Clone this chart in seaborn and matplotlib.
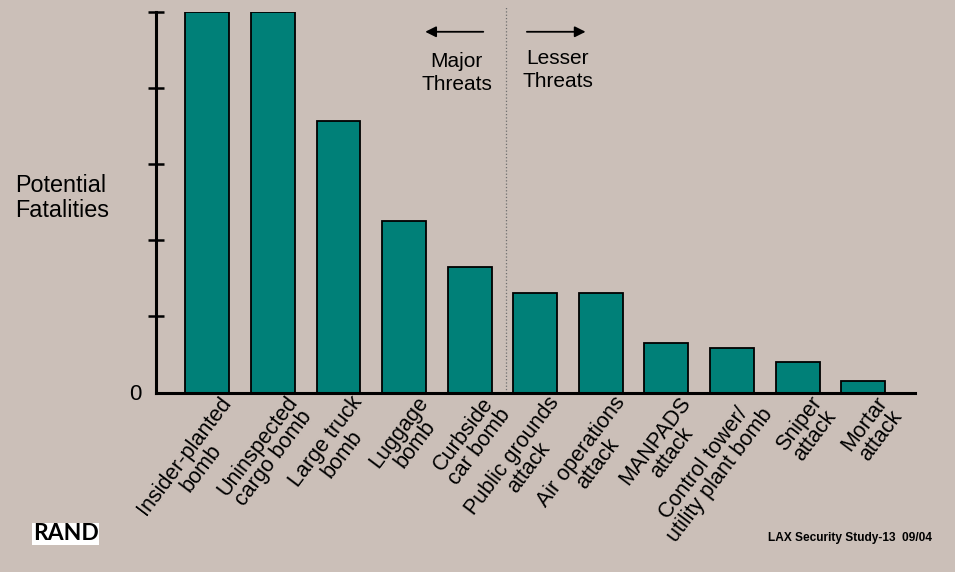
import matplotlib
matplotlib.use("Agg")
import matplotlib.pyplot as plt
import matplotlib.transforms as mtransforms
import seaborn as sns

# Threat categories and relative fatality estimates
threats = [
    "Insider-planted\nbomb", "Uninspected\ncargo bomb", "Large truck\nbomb",
    "Luggage\nbomb", "Curbside\ncar bomb", "Public grounds\nattack",
    "Air operations\nattack", "MANPADS\nattack", "Control tower/\nutility plant bomb",
    "Sniper\nattack", "Mortar\nattack",
]
fatalities = [5.0, 5.0, 3.57, 2.25, 1.65, 1.31, 1.31, 0.65, 0.58, 0.40, 0.15]
y_ticks = [0, 1, 2, 3, 4, 5]
y_labels = ["0", "", "", "", "", ""]

bg = "#cbbfb8"
teal = "#008078"

sns.set_style("white")
plt.rcParams["font.family"] = ["Liberation Sans", "DejaVu Sans"]
plt.rcParams["text.color"] = "black"

fig = plt.figure(figsize=(9.55, 5.72), dpi=100, facecolor=bg)
ax = fig.add_axes([155.5 / 955, 179.5 / 572, (915 - 155.5) / 955, (392.5 - 12) / 572])
ax.set_facecolor(bg)

sns.barplot(x=threats, y=fatalities, color=teal, saturation=1, width=0.67,
            edgecolor="black", linewidth=1.3, ax=ax)

ax.set_xlim(-0.79, 10.79)
ax.set_ylim(0, 5)
ax.set_xlabel("")
ax.set_ylabel("")

# axes styling
for side in ["top", "right"]:
    ax.spines[side].set_visible(False)
for side in ["left", "bottom"]:
    ax.spines[side].set_linewidth(2.2)
    ax.spines[side].set_color("black")

ax.set_yticks(y_ticks, labels=y_labels)
ax.tick_params(axis="y", left=True, direction="inout", length=11, width=1.8,
               pad=4.5, labelsize=16, colors="black")
ax.yaxis.get_major_ticks()[0].tick1line.set_visible(False)
ax.tick_params(axis="x", length=0, pad=0, colors="black")

# rotated two-line category labels
offset = mtransforms.ScaledTranslation(12 / 100, 0, fig.dpi_scale_trans)
for lab in ax.get_xticklabels():
    lab.set_rotation(53)
    lab.set_rotation_mode("anchor")
    lab.set_ha("right")
    lab.set_va("top")
    lab.set_multialignment("center")
    lab.set_fontsize(15.5)
    lab.set_linespacing(0.95)
    lab.set_transform(lab.get_transform() + offset)

# divider between major and lesser threats
ax.plot([4.55, 4.55], [0, 5.07], ls=":", color="#6e6e6e", lw=0.9, clip_on=False)

ax.annotate("", xy=(3.28, 4.74), xytext=(4.25, 4.74),
            arrowprops=dict(arrowstyle="-|>", color="black", lw=1.3, mutation_scale=16))
ax.annotate("", xy=(5.81, 4.74), xytext=(4.83, 4.74),
            arrowprops=dict(arrowstyle="-|>", color="black", lw=1.3, mutation_scale=16))
ax.text(3.80, 4.48, "Major\nThreats", ha="center", va="top", fontsize=15,
        linespacing=1.3)
ax.text(5.34, 4.52, "Lesser\nThreats", ha="center", va="top", fontsize=15,
        linespacing=1.3)

fig.text(15 / 955, 1 - 174 / 572, "Potential\nFatalities", ha="left", va="top",
         fontsize=16.8, linespacing=1.1)

fig.text(33 / 955, 1 - 534 / 572, "RAND", ha="left", va="center", fontsize=16.5,
         fontweight="bold", family=["Lato", "DejaVu Sans"],
         bbox=dict(facecolor="white", edgecolor="none", pad=0.5))
fig.text(932 / 955, 1 - 538 / 572, "LAX Security Study-13  09/04", ha="right",
         va="center", fontsize=8.6, fontweight="bold")

fig.savefig("out.png", dpi=100, facecolor=bg)
